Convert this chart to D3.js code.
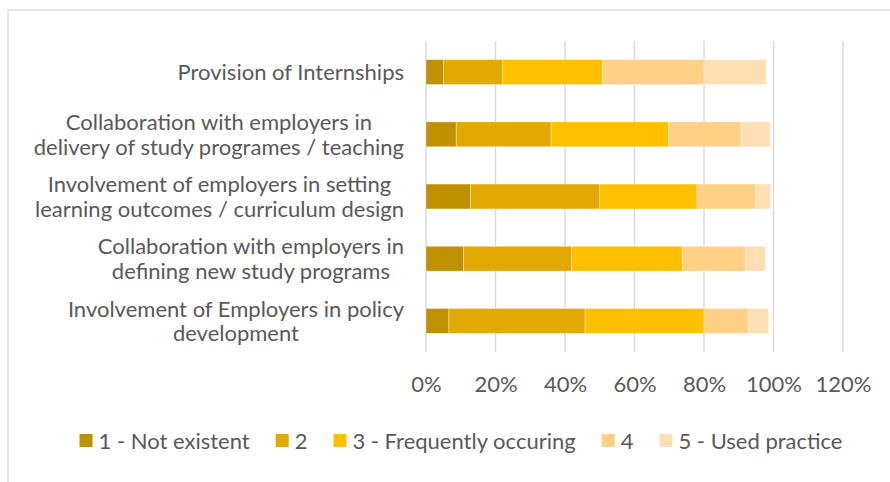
<!DOCTYPE html>
<html>
<head>
<meta charset="utf-8">
<script src="https://cdn.jsdelivr.net/npm/d3@7"></script>
<style>
  html, body { margin: 0; padding: 0; background: #fff; }
  svg { display: block; }
  text { font-family: Lato, "Open Sans", sans-serif; fill: #595959; }
</style>
</head>
<body>
<svg id="chart" width="890" height="482"></svg>
<script>
// ---- data ----
const categories = [
  ["Provision of Internships"],
  ["Collaboration with employers in", "delivery of study programes / teaching"],
  ["Involvement of employers in setting", "learning outcomes / curriculum design"],
  ["Collaboration with employers in", "defining new study programs"],
  ["Involvement of Employers in policy", "development"]
];
const seriesNames = ["1 - Not existent", "2", "3 - Frequently occuring", "4", "5 - Used practice"];
const s1 = [5.0, 8.7, 12.8, 10.8, 6.6];
const s2 = [17.0, 27.3, 37.1, 31.1, 39.2];
const s3 = [28.8, 33.8, 28.1, 31.9, 34.2];
const s4 = [29.2, 20.9, 16.8, 18.1, 12.8];
const s5 = [17.9, 8.3, 4.3, 5.8, 5.8];
const tickValues = [0, 20, 40, 60, 80, 100, 120];
const colors = ["#bf9000", "#e2aa00", "#ffc000", "#ffd086", "#ffdfb3"];

// ---- layout ----
const svg = d3.select("#chart");
const fontSize = 22;
const plotL = 426, plotR = 843, plotT = 41, plotB = 352;

// frame
svg.append("rect").attr("x", 8).attr("y", 10).attr("width", 900).attr("height", 500)
  .attr("fill", "none").attr("stroke", "#d9d9d9").attr("stroke-width", 1.3);

const x = d3.scaleLinear().domain([0, 120]).range([plotL, plotR]);
const idx = d3.range(categories.length);
const y = d3.scaleBand().domain(idx).range([plotT, plotB]).paddingInner(0.6).paddingOuter(0.3);

// gridlines
svg.append("g").selectAll("line").data(tickValues).join("line")
  .attr("x1", d => x(d)).attr("x2", d => x(d))
  .attr("y1", plotT).attr("y2", plotB)
  .attr("stroke", "#d9d9d9").attr("stroke-width", 1.4);

// stacked data
const seriesArrays = [s1, s2, s3, s4, s5];
const rows = idx.map(i => {
  const o = { i };
  seriesNames.forEach((n, k) => o[n] = seriesArrays[k][i]);
  return o;
});
const stack = d3.stack().keys(seriesNames)(rows);

svg.append("g").selectAll("g").data(stack).join("g")
  .attr("fill", (d, k) => colors[k])
  .selectAll("rect").data(d => d).join("rect")
  .attr("x", d => x(d[0]))
  .attr("width", d => x(d[1]) - x(d[0]))
  .attr("y", d => y(d.data.i))
  .attr("height", y.bandwidth())
  .attr("stroke", "rgba(255,255,255,0.45)").attr("stroke-width", 0.8);

// x axis labels
const xAxis = d3.axisBottom(x).tickValues(tickValues).tickFormat(d => d + "%").tickSize(0).tickPadding(0);
const ax = svg.append("g").attr("transform", `translate(0,${plotB})`).call(xAxis);
ax.select(".domain").remove();
ax.selectAll("text").attr("font-size", fontSize).attr("font-family", "Lato, 'Open Sans', sans-serif")
  .attr("fill", "#595959").attr("dy", null).attr("y", 40);

// category labels (block right-aligned, lines centred)
const labelRight = 404;
const lineH = 24.5;
idx.forEach(i => {
  const lines = categories[i];
  const g = svg.append("g");
  const cy = y(i) + y.bandwidth() / 2;
  const texts = lines.map((l, j) => g.append("text")
    .attr("font-size", fontSize)
    .attr("text-anchor", "middle")
    .attr("y", cy + (j - (lines.length - 1) / 2) * lineH + 8)
    .text(l));
  const w = d3.max(texts, t => t.node().getComputedTextLength());
  texts.forEach(t => t.attr("x", labelRight - w / 2));
});

// legend
const legY = 441;
const leg = svg.append("g");
let cx = 0;
seriesNames.forEach((n, k) => {
  const g = leg.append("g").attr("transform", `translate(${cx},0)`);
  g.append("rect").attr("x", 0).attr("y", legY - 7).attr("width", 13).attr("height", 13).attr("fill", colors[k]);
  const t = g.append("text").attr("x", 19).attr("y", legY + 8).attr("font-size", fontSize).text(n);
  const w = 19 + t.node().getComputedTextLength();
  cx += w + 26;
});
const totalW = cx - 26;
leg.attr("transform", `translate(${461 - totalW / 2},0)`);
</script>
</body>
</html>
